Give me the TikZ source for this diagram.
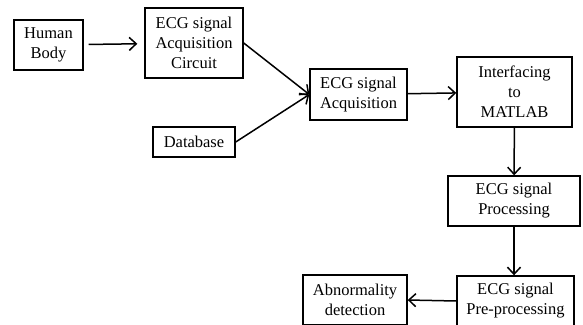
\documentclass[tikz,border=0pt]{standalone}
\usepackage{fontspec}
\setmainfont{Liberation Serif}
\usetikzlibrary{arrows.meta}
\begin{document}
\begin{tikzpicture}[x=1pt,y=-1pt,
  box/.style={draw, line width=1.4pt, align=center, inner sep=0pt,
    font=\fontsize{16.5}{20}\selectfont},
  conn/.style={line width=1.5pt, -{Straight Barb[length=7pt,width=13pt,line width=1.5pt]}}]
\useasboundingbox (0,0) rectangle (583,324);
\clip (0,0) rectangle (583,324);
\node[box, minimum width=69pt, minimum height=50pt] (hb) at (48.5,45) {Human\\Body};
\node[box, minimum width=98pt, minimum height=70pt] (circ) at (194,43) {ECG signal\\Acquisition\\Circuit};
\node[box, minimum width=82pt, minimum height=30pt] (db) at (194,142) {Database};
\node[box, minimum width=97pt, minimum height=51pt] (acq) at (358.5,94.5) {ECG signal\\Acquisition};
\node[box, minimum width=115pt, minimum height=70pt] (intf) at (514.5,92) {Interfacing\\to\\MATLAB};
\node[box, minimum width=132pt, minimum height=50pt] (proc) at (514,201) {ECG signal\\Processing};
\node[box, minimum width=117pt, minimum height=50pt] (pre) at (515.5,301) {ECG signal\\Pre-processing};
\node[box, minimum width=104pt, minimum height=50pt] (abn) at (355,300) {Abnormality\\detection};
\draw[conn, shorten <=5pt, shorten >=7pt] (hb) -- (circ);
\draw[conn] (circ.east) -- (acq.west);
\draw[conn] (db.east) -- (acq.west);
\draw[conn] (acq) -- (intf);
\draw[conn] (intf) -- (proc);
\draw[conn] (proc.south) -- (proc.south |- pre.north);
\draw[conn] (pre.west) -- (abn.east);
\end{tikzpicture}
\end{document}
